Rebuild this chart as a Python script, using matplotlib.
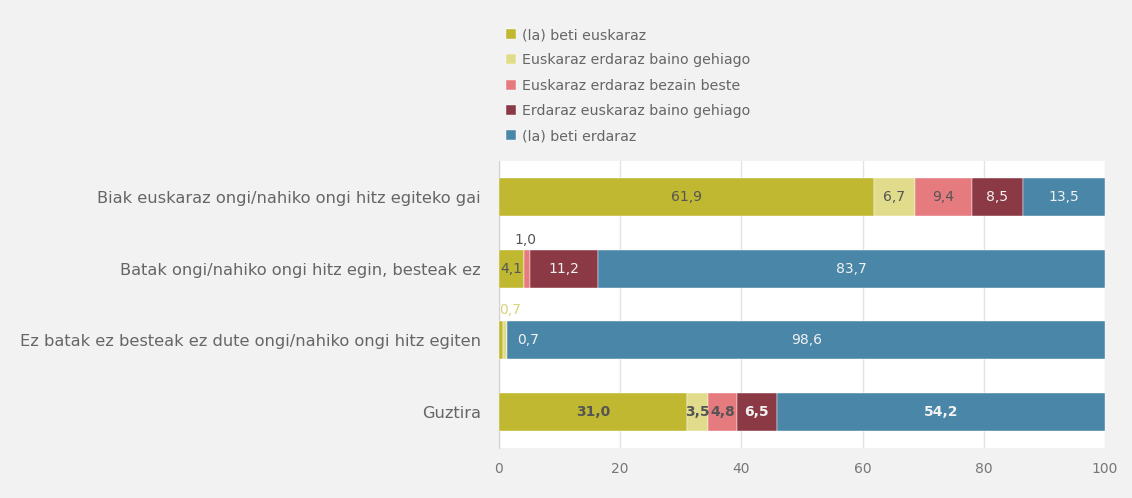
import numpy as np
import matplotlib.pyplot as plt

categories = [
    "Biak euskaraz ongi/nahiko ongi hitz egiteko gai",
    "Batak ongi/nahiko ongi hitz egin, besteak ez",
    "Ez batak ez besteak ez dute ongi/nahiko ongi hitz egiten",
    "Guztira",
]
series_names = [
    "(la) beti euskaraz",
    "Euskaraz erdaraz baino gehiago",
    "Euskaraz erdaraz bezain beste",
    "Erdaraz euskaraz baino gehiago",
    "(la) beti erdaraz",
]
beti_euskaraz = [61.9, 4.1, 0.7, 31.0]
eusk_gehiago = [6.7, 0.0, 0.7, 3.5]
bezain_beste = [9.4, 1.0, 0.0, 4.8]
erd_gehiago = [8.5, 11.2, 0.0, 6.5]
beti_erdaraz = [13.5, 83.7, 98.6, 54.2]
series = [beti_euskaraz, eusk_gehiago, bezain_beste, erd_gehiago, beti_erdaraz]

colors = ["#bfb830", "#e0dc8c", "#e57a7f", "#8b3a45", "#4a86a8"]
label_colors = ["#555555", "#555555", "#555555", "#f2f2f2", "#f2f2f2"]

plt.rcParams['font.family'] = ['DejaVu Sans']

fig = plt.figure(figsize=(11.32, 4.98), dpi=100, facecolor="#f2f2f2")
ax = fig.add_axes([0.4408, 0.1004, 0.5353, 0.5763])
ax.set_facecolor("white")

y = np.arange(len(categories))
left = np.zeros(len(categories))
for i, (vals, col) in enumerate(zip(series, colors)):
    vals = np.array(vals)
    ax.barh(y, vals, left=left, height=0.53, color=col, label=series_names[i],
            edgecolor="white", linewidth=0.3, zorder=3)
    for j, v in enumerate(vals):
        if v <= 0:
            continue
        bold = (j == 3)
        cx = left[j] + v / 2
        # small segments: labels moved outside like in the original
        if j == 1 and i == 2:
            ax.text(left[j] + 0.3, y[j] - 0.4, "1,0", ha="center", va="center",
                    fontsize=10, color="#555555", zorder=4)
            continue
        if j == 2 and i == 0:
            ax.text(3.0, y[j], "0,7", ha="left", va="center", fontsize=10,
                    color="#f2f2f2", zorder=4)
            continue
        if j == 2 and i == 1:
            ax.text(0.0, y[j] - 0.42, "0,7", ha="left", va="center", fontsize=10,
                    color="#d8d27a", zorder=4)
            continue
        txt = ("%.1f" % v).replace(".", ",")
        ax.text(cx, y[j], txt, ha="center", va="center", fontsize=10,
                color=label_colors[i], fontweight="bold" if bold else "normal", zorder=4)
    left = left + vals

ax.set_xlim(0, 100)
ax.set_ylim(3.5, -0.5)
ax.set_xticks([0, 20, 40, 60, 80, 100])
ax.set_yticks(y)
ax.set_yticklabels(categories, fontsize=11.7, color="#666666")
ax.tick_params(axis="x", colors="#777777", labelsize=10, length=0, pad=10)
ax.tick_params(axis="y", length=0, pad=13)
ax.grid(axis="x", color="#e3e3e3", linewidth=1, zorder=0)
for s in ["top", "right", "bottom"]:
    ax.spines[s].set_visible(False)
ax.spines["left"].set_color("#d0d0d0")

fig.legend(loc="upper left", bbox_to_anchor=(0.442, 0.955), frameon=False,
           fontsize=10.2, labelcolor="#666666", handlelength=0.7, handleheight=0.7,
           handletextpad=0.4, labelspacing=0.8, borderaxespad=0)

fig.savefig("out.png", dpi=100, facecolor=fig.get_facecolor())
